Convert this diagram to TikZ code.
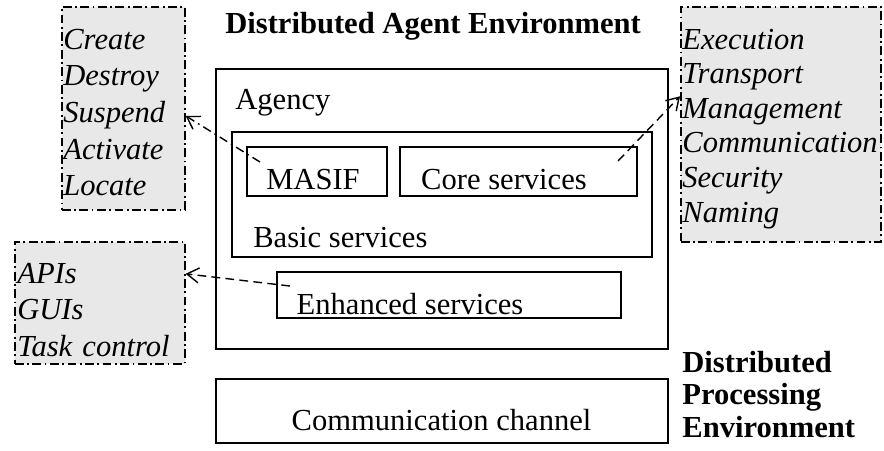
\documentclass[tikz,border=0pt]{standalone}
\usepackage{fontspec}
\setmainfont{Liberation Serif}
\usetikzlibrary{arrows.meta}
\newcommand{\frameat}[4]{%
 \node[frame, minimum width={#3*0.02cm}, minimum height={#4*0.02cm}] ({#1}) at ({#2}) {};%
}
\newcommand{\listat}[4]{%
 \node[listbox, minimum width={#3*0.02cm}, minimum height={#4*0.02cm}] ({#1}) at ({#2}) {};%
}
\tikzset{
 frame/.style={draw, line width=1pt, inner sep=0, anchor=north west},
 listbox/.style={draw, fill=black!9, line width=0.9pt, inner sep=0, anchor=north west,
  dash pattern=on 5pt off 2pt on 1pt off 2pt},
 lbl/.style={inner sep=0, anchor=base west},
 ctr/.style={inner sep=0, anchor=base},
 items/.style={inner sep=0, anchor=base west, text width=6cm, align=left},
 link/.style={line width=0.8pt, -{Straight Barb[length=0.24cm, width=0.3cm]}},
}
\begin{document}
\begin{tikzpicture}[x=0.02cm, y=-0.02cm, font=\fontsize{17.4}{20.9}\selectfont]
 \useasboundingbox (0,0) rectangle (884,450);
 % service boxes
 \frameat{agency}{215,68}{452}{280};
 \frameat{basic}{231,131}{420}{125};
 \frameat{masif}{246,146}{140}{49};
 \frameat{core}{399,146}{237}{49};
 \frameat{enhanced}{276,271}{344}{46};
 \frameat{channel}{215,378}{452}{64};
 \node[lbl, font=\fontsize{17.4}{20.9}\selectfont\bfseries] (dae) at (225,33) {Distributed Agent Environment};
 \node[lbl] (agencylbl) at (235,109) {Agency};
 \node[ctr] (masiflbl) at (313,189) {MASIF};
 \node[ctr] (corelbl) at (504,189) {Core services};
 \node[lbl] (basiclbl) at (253,247) {Basic services};
 \node[ctr] (enhancedlbl) at (410,314) {Enhanced services};
 \node[ctr] (channellbl) at (441.5,430) {Communication channel};
 \node[items, font=\fontsize{17.4}{18.7}\selectfont\bfseries] (dpe) at (682,372)
  {Distributed\\Processing\\Environment};
 % operation lists
 \listat{lifecycle}{61,6}{123}{203};
 \listat{corelist}{680,6}{200}{235};
 \listat{toollist}{14,241}{170}{122};
 \node[items, font=\fontsize{17.4}{20.9}\selectfont\itshape] (lifecycletxt) at (63,49)
  {Create\\Destroy\\Suspend\\Activate\\Locate};
 \node[items, font=\fontsize{17.4}{19.7}\selectfont\itshape] (corelisttxt) at (682,49)
  {Execution\\Transport\\Management\\Communication\\Security\\Naming};
 \node[items, font=\fontsize{17.4}{21}\selectfont\itshape] (toollisttxt) at (17,283)
  {APIs\\GUIs\\Task control};
 % links
 \coordinate (masifsrc) at (260,162);
 \coordinate (coresrc) at (618,161);
 \coordinate (enhancedsrc) at (290,286);
 \draw[link, dash pattern=on 5pt off 2.5pt on 1pt off 2.5pt] (masifsrc) -- ([yshift=-0.15cm]lifecycle.east);
 \draw[link, dash pattern=on 5pt off 3pt] (coresrc) -- ([yshift=0.56cm]corelist.west);
 \draw[link, dash pattern=on 5pt off 3pt] (enhancedsrc) -- ([yshift=0.58cm]toollist.east);
\end{tikzpicture}
\end{document}
